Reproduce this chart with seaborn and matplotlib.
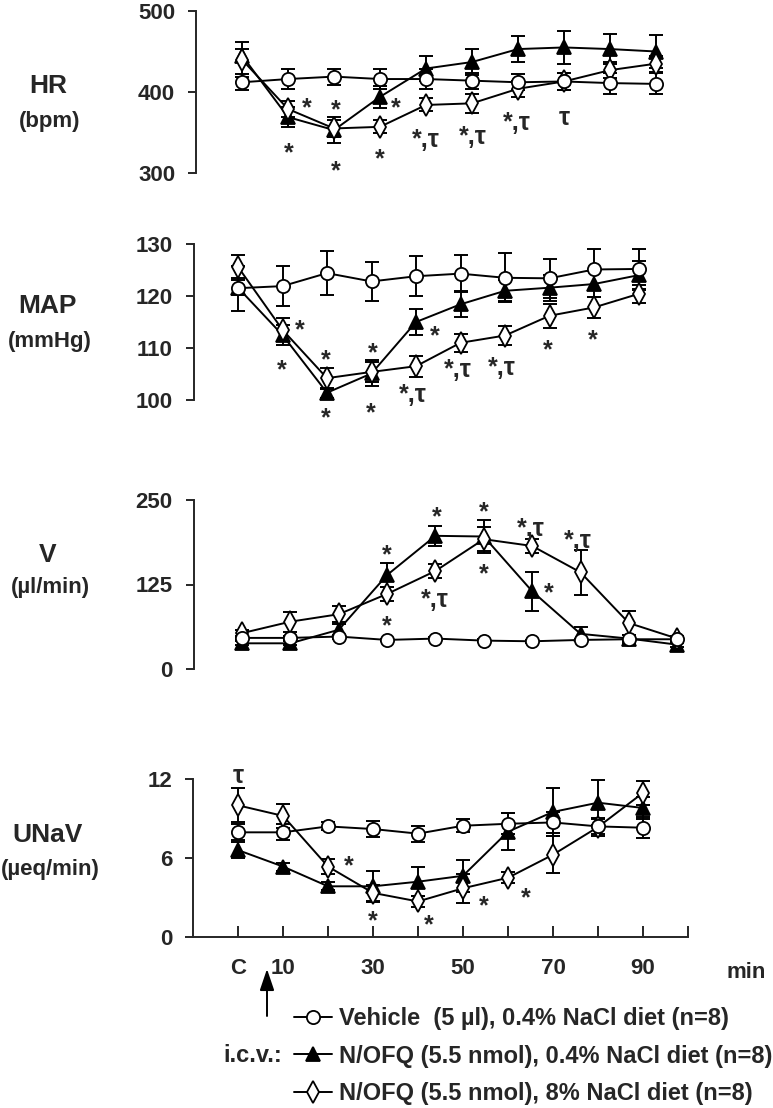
import matplotlib
matplotlib.use("Agg")
import matplotlib.pyplot as plt
from matplotlib.lines import Line2D
import seaborn as sns

sns.set_style("ticks")
plt.rcParams["font.family"] = ["Liberation Sans", "DejaVu Sans"]
plt.rcParams["font.weight"] = "bold"

# ---------------- data (mean, SEM) ----------------
times = ["C", "10", "", "30", "", "50", "", "70", "", "90", ""]
x = [0, 1, 2, 3, 4, 5, 6, 7, 8, 9]

hr_veh = [412, 416, 419, 416, 416, 414, 412, 413, 411, 410]
hr_veh_err = [10, 12, 10, 12, 12, 10, 10, 10, 13, 13]
hr_nofq = [445, 369, 353, 394, 429, 437, 453, 455, 453, 450]
hr_nofq_err = [8, 12, 16, 14, 16, 16, 16, 20, 18, 20]
hr_salt = [440, 379, 355, 357, 384, 386, 404, 413, 427, 435]
hr_salt_err = [22, 10, 10, 8, 8, 12, 10, 10, 10, 10]

map_veh = [121.5, 121.9, 124.4, 122.8, 123.8, 124.3, 123.5, 123.4, 125.1, 125.2]
map_veh_err = [4.3, 3.8, 4.3, 3.8, 3.8, 3.5, 4.7, 3.8, 3.9, 3.9]
map_nofq = [121.6, 112.5, 101.4, 105.1, 115.0, 118.4, 121.0, 121.6, 122.3, 124.0]
map_nofq_err = [1.5, 2.0, 1.0, 2.5, 2.5, 2.5, 2.0, 2.5, 2.5, 2.8]
map_salt = [125.6, 113.5, 104.2, 105.4, 106.5, 111.0, 112.4, 116.2, 117.8, 120.4]
map_salt_err = [2.2, 2.2, 2.0, 2.0, 2.0, 1.7, 1.9, 2.3, 2.1, 1.7]

v_veh = [46, 46, 48, 43, 45, 42, 41, 43, 44, 44]
v_veh_err = [3, 3, 3, 2, 2, 2, 2, 2, 2, 2]
v_nofq = [38, 38, 58, 139, 197, 196, 115, 52, 45, 36]
v_nofq_err = [3, 3, 8, 18, 15, 25, 29, 10, 6, 3]
v_salt = [53, 70, 81, 111, 145, 192, 182, 143, 68, 45]
v_salt_err = [5, 15, 12, 10, 11, 18, 11, 33, 18, 4]

u_veh = [7.95, 7.95, 8.4, 8.2, 7.85, 8.45, 8.6, 8.7, 8.4, 8.3]
u_veh_err = [0.6, 0.6, 0.3, 0.6, 0.6, 0.5, 0.8, 0.8, 0.6, 0.8]
u_nofq = [6.6, 5.35, 3.85, 3.85, 4.2, 4.65, 8.0, 9.5, 10.2, 9.8]
u_nofq_err = [0.6, 0.3, 0.3, 1.2, 1.1, 1.2, 1.4, 1.8, 1.7, 0.8]
u_salt = [10.0, 9.2, 5.35, 3.35, 2.7, 3.7, 4.5, 6.25, 8.35, 10.95]
u_salt_err = [1.3, 0.9, 0.6, 0.6, 0.4, 1.1, 0.4, 1.4, 0.7, 0.9]

# significance marks (x, y, text)
hr_marks = [(1.40, 388, "*"), (1.02, 333, "*"), (2.03, 386, "*"), (2.03, 310, "*"),
            (3.34, 388, "*"), (3.0, 325, "*"), (3.99, 349, "*,τ"), (5.01, 353, "*,τ"),
            (5.98, 370, "*,τ"), (7.0, 376, "τ")]
map_marks = [(1.39, 114.7, "*"), (0.99, 107.1, "*"), (1.97, 109, "*"), (1.97, 97.8, "*"),
             (3.03, 110.3, "*"), (2.98, 98.7, "*"), (4.43, 113.5, "*"), (3.92, 102.2, "*,τ"),
             (4.93, 107, "*,τ"), (5.93, 107.4, "*,τ"), (6.97, 110.9, "*"), (7.97, 112.8, "*")]
v_marks = [(3.0, 178, "*"), (3.0, 73.6, "*"), (4.02, 234, "*"), (3.99, 112, "*,τ"),
           (5.01, 241.7, "*"), (5.01, 151, "*"), (5.98, 217, "*,τ"), (6.34, 121.6, "*"),
           (6.95, 200, "*,τ")]
u_marks = [(0, 12.75, "τ"), (2.46, 5.87, "*"), (3.0, 1.7, "*"), (4.23, 1.44, "*"),
           (5.47, 2.84, "*"), (6.4, 3.47, "*")]

labels = ["Vehicle  (5 µl), 0.4% NaCl diet (n=8)",
          "N/OFQ (5.5 nmol), 0.4% NaCl diet (n=8)",
          "N/OFQ (5.5 nmol), 8% NaCl diet (n=8)"]

styles = [dict(marker="^", markerfacecolor="black", markersize=10.5),
          dict(marker="d", markerfacecolor="white", markersize=11),
          dict(marker="o", markerfacecolor="white", markersize=9.5)]

W, H = 773, 1108
fig = plt.figure(figsize=(W / 100, H / 100), dpi=100)


def rect(left, width, top, bottom):
    return [left / W, 1 - bottom / H, width / W, (bottom - top) / H]


def panel(r, series, ylim, yticks, marks):
    ax = fig.add_axes(r)
    for (m, e), st in zip(series, styles):
        ax.errorbar(x, m, yerr=e, fmt="none", ecolor="black", elinewidth=1.4,
                    capsize=5, capthick=1.4, zorder=2, clip_on=False)
        sns.lineplot(x=x, y=m, ax=ax, color="black", lw=1.4, markeredgecolor="black",
                     markeredgewidth=1.3, zorder=3, clip_on=False, **st)
    ax.set_xlim(-1, 10)
    ax.set_ylim(*ylim)
    ax.set_yticks(yticks)
    ax.set_yticklabels([str(t) for t in yticks])
    ax.set_xlabel("")
    ax.set_ylabel("")
    for s in ["top", "right", "bottom"]:
        ax.spines[s].set_visible(False)
    ax.spines["left"].set_linewidth(1.4)
    ax.tick_params(axis="y", direction="out", length=6, width=1.4, pad=9, labelsize=16)
    ax.set_xticks([])
    for mx, my, txt in marks:
        ax.annotate(txt, (mx, my), xytext=(0, -10), textcoords="offset points",
                    ha="center", va="baseline", fontsize=18, fontweight="bold",
                    annotation_clip=False)
    ax.patch.set_alpha(0)
    return ax


ax1 = panel(rect(196, 506, 11, 173),
            [(hr_nofq, hr_nofq_err), (hr_salt, hr_salt_err), (hr_veh, hr_veh_err)],
            (300, 500), [300, 400, 500], hr_marks)
ax2 = panel(rect(193.5, 489.5, 244, 400),
            [(map_nofq, map_nofq_err), (map_salt, map_salt_err), (map_veh, map_veh_err)],
            (100, 130), [100, 110, 120, 130], map_marks)
ax3 = panel(rect(193.6, 532, 500, 669),
            [(v_nofq, v_nofq_err), (v_salt, v_salt_err), (v_veh, v_veh_err)],
            (0, 250), [0, 125, 250], v_marks)
ax4 = panel(rect(193, 495, 779, 937),
            [(u_nofq, u_nofq_err), (u_salt, u_salt_err), (u_veh, u_veh_err)],
            (0, 12), [0, 6, 12], u_marks)

ax4.spines["bottom"].set_visible(True)
ax4.spines["bottom"].set_linewidth(1.4)
ax4.set_xticks(range(11))
ax4.set_xticklabels(times)
ax4.tick_params(axis="x", direction="in", length=8, width=1.4, pad=15, labelsize=16)

# axis titles
ytitles = [("HR", "(bpm)", 86, 121), ("MAP", "(mmHg)", 306, 342),
           ("V", "(µl/min)", 555, 587), ("UNaV", "(µeq/min)", 835, 870)]
for big, small, y1, y2 in ytitles:
    fig.text(48 / W, 1 - y1 / H, big, ha="center", va="center", fontsize=19, fontweight="bold")
    fig.text(50 / W, 1 - y2 / H, small, ha="center", va="center", fontsize=16, fontweight="bold")

fig.text(746 / W, 1 - 972 / H, "min", ha="center", va="center", fontsize=16, fontweight="bold")
fig.text(282 / W, 1 - 1055 / H, "i.c.v.:", ha="right", va="center", fontsize=17, fontweight="bold")
fig.add_artist(matplotlib.patches.FancyArrowPatch(
    (267 / W, 1 - 1016 / H), (267 / W, 1 - 969 / H), transform=fig.transFigure,
    arrowstyle="-|>,head_length=0.65,head_width=0.22", mutation_scale=20,
    color="black", lw=1.4, shrinkA=0, shrinkB=0))

order = [2, 0, 1]
handles = [Line2D([], [], color="black", lw=1.4, markeredgecolor="black",
                  markeredgewidth=1.3, **styles[i]) for i in order]
fig.legend(handles, labels, loc="upper left", bbox_to_anchor=(294 / W, 1 - 1007 / H),
           frameon=False, borderpad=0, borderaxespad=0, handlelength=1.6,
           handletextpad=0.3, labelspacing=0.62, numpoints=1,
           prop=dict(size=17, weight="bold"))

fig.savefig("out.png", dpi=100)
